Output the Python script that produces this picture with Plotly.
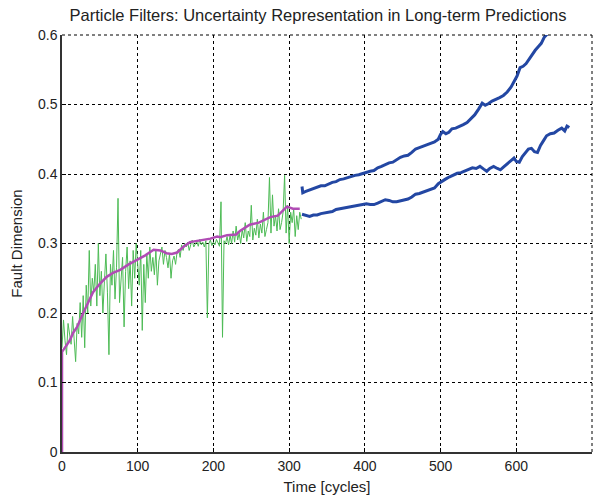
import plotly.graph_objects as go

# Green noisy measurements (every 2 cycles)
meas_x = list(range(0, 318, 2))
meas_y = [
    0.150, 0.190, 0.160, 0.140, 0.185, 0.170, 0.155, 0.195, 0.165, 0.130,
    0.185, 0.170, 0.215, 0.165, 0.225, 0.150, 0.240, 0.200, 0.290, 0.210,
    0.250, 0.230, 0.270, 0.210, 0.300, 0.225, 0.260, 0.200, 0.245, 0.285,
    0.230, 0.140, 0.270, 0.240, 0.290, 0.220, 0.265, 0.365, 0.215, 0.250,
    0.280, 0.180, 0.260, 0.295, 0.235, 0.275, 0.210, 0.290, 0.250, 0.300,
    0.265, 0.240, 0.290, 0.175, 0.270, 0.215, 0.285, 0.250, 0.295, 0.260,
    0.280, 0.255, 0.290, 0.240, 0.275, 0.285, 0.295, 0.270, 0.290, 0.280,
    0.265, 0.285, 0.250, 0.275, 0.282, 0.270, 0.288, 0.292, 0.280, 0.298,
    0.290, 0.300, 0.295, 0.302, 0.290, 0.298, 0.305, 0.295, 0.300, 0.303,
    0.296, 0.306, 0.298, 0.302, 0.295, 0.304, 0.193, 0.300, 0.305, 0.297,
    0.302, 0.298, 0.306, 0.300, 0.296, 0.360, 0.165, 0.304, 0.300, 0.310,
    0.298, 0.312, 0.300, 0.318, 0.302, 0.325, 0.305, 0.315, 0.300, 0.320,
    0.308, 0.330, 0.303, 0.318, 0.310, 0.355, 0.305, 0.322, 0.312, 0.335,
    0.308, 0.328, 0.315, 0.345, 0.310, 0.320, 0.330, 0.395, 0.315, 0.370,
    0.325, 0.340, 0.318, 0.350, 0.320, 0.330, 0.345, 0.398, 0.315, 0.355,
    0.300, 0.345, 0.330, 0.350, 0.310, 0.340, 0.320, 0.345, 0.335,
]

# Magenta filtered estimate
est_x = [0, 0, 5, 10, 15, 20, 28, 35, 41, 50, 59, 68, 77, 88, 99, 110, 121, 130,
         138, 145, 152, 160, 169, 180, 196, 205, 209, 218, 230, 235, 248, 260,
         275, 285, 292, 297, 305, 314]
est_y = [0, 0.144, 0.152, 0.160, 0.172, 0.180, 0.200, 0.215, 0.230, 0.242, 0.252,
         0.258, 0.262, 0.270, 0.276, 0.283, 0.291, 0.290, 0.286, 0.285, 0.287,
         0.295, 0.302, 0.304, 0.307, 0.310, 0.309, 0.312, 0.313, 0.318, 0.327,
         0.330, 0.338, 0.340, 0.348, 0.353, 0.350, 0.350]

# Upper prediction bound
up_x = [317, 318, 322, 327, 332, 337, 342, 347, 352, 357, 362, 367, 372, 377, 382,
        387, 392, 397, 402, 407, 412, 417, 422, 427, 432, 437, 442, 447, 452, 457,
        462, 467, 472, 477, 482, 487, 492, 497, 500, 503, 507, 511, 515, 520, 525,
        530, 535, 540, 545, 550, 555, 559, 563, 568, 573, 578, 583, 588, 593, 597,
        601, 605, 609, 613, 617, 621, 625, 629, 633, 637, 641, 645]
up_y = [0.382, 0.373, 0.375, 0.377, 0.379, 0.381, 0.383, 0.383, 0.386, 0.388,
        0.389, 0.392, 0.393, 0.395, 0.396, 0.398, 0.399, 0.401, 0.402, 0.404,
        0.405, 0.409, 0.411, 0.414, 0.416, 0.417, 0.421, 0.424, 0.426, 0.427,
        0.431, 0.436, 0.438, 0.440, 0.442, 0.444, 0.446, 0.450, 0.457, 0.461,
        0.458, 0.460, 0.465, 0.466, 0.468, 0.471, 0.474, 0.479, 0.485, 0.493,
        0.502, 0.499, 0.501, 0.505, 0.507, 0.510, 0.513, 0.518, 0.525, 0.532,
        0.541, 0.553, 0.555, 0.559, 0.566, 0.572, 0.578, 0.583, 0.588, 0.597,
        0.602, 0.606]

# Lower prediction bound
lo_x = [317, 322, 327, 332, 337, 342, 347, 352, 357, 362, 367, 372, 377, 382, 387,
        392, 397, 402, 407, 412, 417, 422, 427, 432, 437, 442, 447, 452, 457, 462,
        467, 472, 477, 482, 487, 492, 497, 502, 507, 512, 517, 522, 527, 532, 537,
        542, 547, 552, 557, 561, 565, 570, 575, 579, 583, 588, 593, 597, 600, 604,
        608, 612, 616, 620, 624, 628, 632, 636, 640, 645, 650, 655, 660, 664, 667,
        670]
lo_y = [0.342, 0.341, 0.339, 0.341, 0.341, 0.343, 0.344, 0.345, 0.346, 0.349,
        0.350, 0.351, 0.352, 0.353, 0.354, 0.355, 0.355, 0.357, 0.356, 0.356,
        0.358, 0.361, 0.363, 0.362, 0.360, 0.360, 0.361, 0.362, 0.364, 0.367,
        0.371, 0.372, 0.374, 0.375, 0.377, 0.380, 0.386, 0.390, 0.393, 0.396,
        0.399, 0.401, 0.402, 0.404, 0.407, 0.409, 0.408, 0.411, 0.407, 0.404,
        0.408, 0.411, 0.408, 0.406, 0.410, 0.415, 0.420, 0.423, 0.418, 0.417,
        0.425, 0.430, 0.436, 0.437, 0.432, 0.431, 0.441, 0.448, 0.455, 0.458,
        0.459, 0.463, 0.466, 0.462, 0.469, 0.467]

x_ticks = [0, 100, 200, 300, 400, 500, 600, 700]
y_ticks = [0, 0.1, 0.2, 0.3, 0.4, 0.5, 0.6]
y_tick_text = ["0", "0.1", "0.2", "0.3", "0.4", "0.5", "0.6"]

fig = go.Figure()
fig.add_trace(go.Scatter(x=meas_x, y=meas_y, mode="lines",
                         line=dict(color="#4dbb55", width=1), showlegend=False))
fig.add_trace(go.Scatter(x=est_x, y=est_y, mode="lines",
                         line=dict(color="#b04cb4", width=2.5), showlegend=False))
fig.add_trace(go.Scatter(x=up_x, y=up_y, mode="lines",
                         line=dict(color="#2347a3", width=3), showlegend=False))
fig.add_trace(go.Scatter(x=lo_x, y=lo_y, mode="lines",
                         line=dict(color="#2347a3", width=3), showlegend=False))

font_family = "Liberation Sans, Arial, sans-serif"
fig.update_layout(
    width=601, height=502,
    margin=dict(l=62, r=9, t=35, b=50),
    paper_bgcolor="white", plot_bgcolor="white",
    font=dict(family=font_family, size=14, color="#222"),
    title=dict(text="Particle Filters: Uncertainty Representation in Long-term Predictions",
               x=318 / 601, xanchor="center", y=1 - 15 / 502, yanchor="middle",
               font=dict(size=16.5, color="#222")),
    xaxis=dict(range=[0, 700], tickvals=x_ticks, ticktext=[str(v) for v in x_ticks],
               showgrid=True, gridcolor="black", gridwidth=1, griddash="3px,3px",
               showline=True, linecolor="#333", linewidth=1.5, mirror=False,
               ticks="inside", ticklen=4, tickcolor="black", zeroline=False,
               tickfont=dict(size=14),
               title=dict(text="Time [cycles]", standoff=9, font=dict(size=15))),
    yaxis=dict(range=[0, 0.6], tickvals=y_ticks, ticktext=y_tick_text,
               showgrid=True, gridcolor="black", gridwidth=1, griddash="3px,3px",
               showline=True, linecolor="#333", linewidth=1.5, mirror=False,
               ticks="inside", ticklen=4, tickcolor="black", zeroline=False,
               tickfont=dict(size=14),
               title=dict(text="Fault Dimension", standoff=12, font=dict(size=15))),
)
# dashed top and right borders
fig.add_shape(type="line", xref="paper", yref="paper", x0=0, x1=1, y0=1, y1=1,
              line=dict(color="black", width=1, dash="3px,3px"))
fig.add_shape(type="line", xref="paper", yref="paper", x0=1, x1=1, y0=0, y1=1,
              line=dict(color="black", width=1, dash="3px,3px"))

fig.write_html("out.html")
